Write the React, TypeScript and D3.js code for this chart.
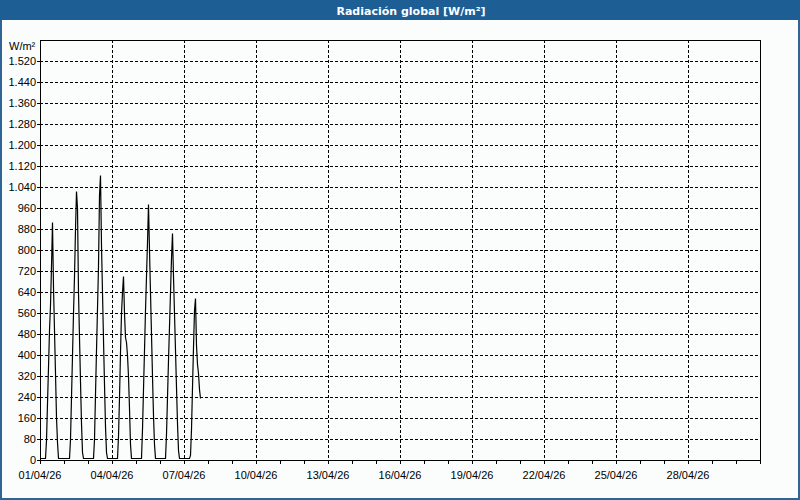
import React from 'react';
import * as d3 from 'd3';

// hourly global radiation, W/m², one array per day (00h..23h)
const day01 = [8, 8, 8, 8, 8, 8, 76, 217, 354, 495, 590, 740, 905, 660, 495, 331, 164, 70, 8, 8, 8, 8, 8, 8];
const day02 = [8, 8, 8, 8, 8, 8, 80, 240, 400, 560, 700, 880, 1025, 960, 640, 470, 300, 140, 30, 8, 8, 8, 8, 8];
const day03 = [8, 8, 8, 8, 8, 8, 80, 250, 420, 580, 740, 1010, 1085, 820, 640, 460, 290, 130, 30, 8, 8, 8, 8, 8];
const day04 = [8, 8, 8, 8, 8, 8, 90, 240, 410, 560, 640, 701, 560, 468, 450, 400, 320, 200, 60, 8, 8, 8, 8, 8];
const day05 = [8, 8, 8, 8, 8, 8, 120, 270, 420, 570, 700, 830, 977, 800, 640, 480, 320, 170, 60, 8, 8, 8, 8, 8];
const day06 = [8, 8, 8, 8, 8, 8, 100, 240, 380, 510, 640, 770, 865, 700, 560, 420, 280, 140, 40, 8, 8, 8, 8, 8];
const day07 = [8, 8, 8, 8, 8, 8, 20, 120, 280, 430, 571, 617, 440, 365, 330, 270, 238];

const days = [day01, day02, day03, day04, day05, day06, day07];

const yTickValues = [0, 80, 160, 240, 320, 400, 480, 560, 640, 720, 800, 880, 960, 1040, 1120, 1200, 1280, 1360, 1440, 1520];
const xLabelDays = [1, 4, 7, 10, 13, 16, 19, 22, 25, 28];

const title = 'Radiación global [W/m²]';
const unit = 'W/m²';

const W = 800;
const H = 500;
const plot = { left: 40, top: 40, right: 760, bottom: 460 };
const blue = '#1d5e95';
const font = '"Liberation Sans", Arial, sans-serif';

const esLocale = d3.formatLocale({ decimal: ',', thousands: '.', grouping: [3], currency: ['', ' €'] });
const fmtY = esLocale.format(',d');
const fmtX = d3.timeFormat('%d/%m/%y');

export default function App() {
  const start = new Date(2026, 3, 1);
  const end = new Date(2026, 4, 1);

  const x = d3.scaleTime().domain([start, end]).range([plot.left, plot.right]);
  const y = d3.scaleLinear().domain([0, 1600]).range([plot.bottom, plot.top]);

  const points = days.flatMap((vals, d) =>
    vals.map((v, h) => ({ t: d3.timeHour.offset(start, d * 24 + h), v }))
  );

  const line = d3.line<{ t: Date; v: number }>()
    .x(d => Math.round(x(d.t)) + 0.5)
    .y(d => Math.round(y(d.v)) + 0.5);

  const dayTicks = d3.timeDay.range(start, d3.timeDay.offset(end, 1));
  const labelDates = xLabelDays.map(d => new Date(2026, 3, d));

  return (
    <svg width={W} height={H} style={{ position: 'fixed', left: 0, top: 0, display: 'block' }}>
      <rect x={0} y={0} width={W} height={H} fill="#fbfdfd" />
      <rect x={1} y={1} width={W - 2} height={H - 2} fill="none" stroke="#2f6594" strokeWidth={2} />
      <rect x={0} y={0} width={W} height={20} fill={blue} />
      <text x={411} y={14.5} textAnchor="middle" fill="#fff" fontFamily='"DejaVu Sans", sans-serif' fontWeight="bold" fontSize={11}>
        {title}
      </text>

      {/* grid */}
      <g stroke="#000" strokeDasharray="3,2" shapeRendering="crispEdges">
        {yTickValues.filter(v => v > 0).map(v => (
          <line key={'gy' + v} x1={plot.left} x2={plot.right} y1={Math.round(y(v)) + 0.5} y2={Math.round(y(v)) + 0.5} />
        ))}
        {labelDates.slice(1).map(d => (
          <line key={'gx' + d.getTime()} x1={Math.round(x(d)) + 0.5} x2={Math.round(x(d)) + 0.5} y1={plot.top} y2={plot.bottom} />
        ))}
      </g>

      {/* frame and ticks */}
      <g stroke="#000" shapeRendering="crispEdges">
        <rect x={plot.left + 0.5} y={plot.top + 0.5} width={plot.right - plot.left} height={plot.bottom - plot.top} fill="none" />
        {yTickValues.map(v => (
          <line key={'ty' + v} x1={plot.left - 3} x2={plot.left} y1={Math.round(y(v)) + 0.5} y2={Math.round(y(v)) + 0.5} />
        ))}
        {dayTicks.map(d => (
          <line key={'tx' + d.getTime()} x1={Math.round(x(d)) + 0.5} x2={Math.round(x(d)) + 0.5} y1={plot.bottom} y2={plot.bottom + 4} />
        ))}
      </g>

      <g fontFamily={font} fontSize={11} fill="#000">
        <text x={9} y={50}>{unit}</text>
        {yTickValues.map(v => (
          <text key={'ly' + v} x={plot.left - 4} y={y(v)} dy="0.35em" textAnchor="end">{fmtY(v)}</text>
        ))}
        {labelDates.map(d => (
          <text key={'lx' + d.getTime()} x={x(d)} y={479} textAnchor="middle">{fmtX(d)}</text>
        ))}
      </g>

      <path d={line(points) || ''} fill="none" stroke="#000" strokeWidth={1.2} />
    </svg>
  );
}
